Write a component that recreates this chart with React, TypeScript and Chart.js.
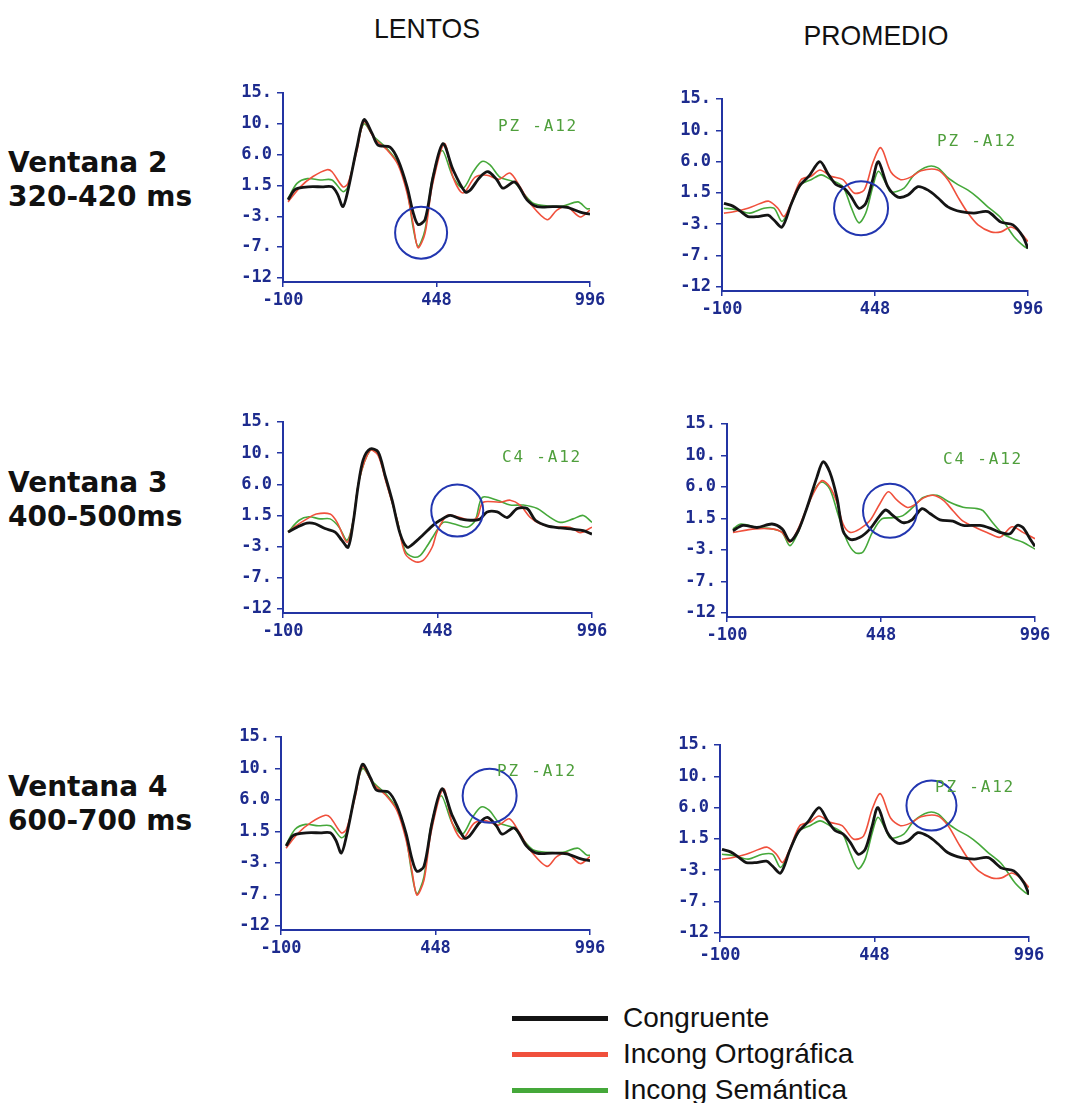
import React, { useEffect, useRef } from "react";
import { Chart, registerables } from "chart.js";

Chart.register(...registerables);

// ---------- tick labels / categories ----------
const xTickValues = [-100, 448, 996];
const xTickLabels = ["-100", "448", "996"];
const yTickValues = [15, 10.5, 6, 1.5, -3, -7.5, -12];
const yTickLabels = ["15.", "10.", "6.0", "1.5", "-3.", "-7.", "-12"];
const seriesNames = ["Congruente", "Incong Ortográfica", "Incong Semántica"];
const columnTitles = ["LENTOS", "PROMEDIO"];
const rowTitles = ["Ventana 2", "Ventana 3", "Ventana 4"];
const rowWindows = ["320-420 ms", "400-500ms", "600-700 ms"];
const channelLabels = ["PZ -A12", "C4 -A12", "PZ -A12"];

// ---------- series values [ms, µV] ----------
const lentosPzCongruente: [number, number][] = [
  [-82, -0.6], [-60, 0.8], [-45, 1.1], [-10, 1.3], [40, 1.3], [75, 1.3], [95, 0.2], [114, -1.6], [132, 0.8],
  [164, 7.1], [189, 11.1], [218, 9.1], [239, 7.4], [282, 7.1], [311, 5.2], [343, 1.3], [365, -2.5], [382, -4.2],
  [407, -3.5], [436, 2.8], [471, 7.6], [507, 3.8], [550, 0.55], [568, 0.8], [603, 2.7], [632, 3.5], [664, 2.3],
  [685, 1.1], [728, 2.0], [771, -0.6], [807, -1.6], [864, -1.6], [914, -1.7], [961, -2.4], [996, -2.7],
];
const lentosPzOrtografica: [number, number][] = [
  [-82, -0.9], [-38, 1.3], [7, 2.8], [57, 3.8], [75, 3.5], [114, 1.3], [132, 1.8], [164, 6.6], [189, 10.8],
  [225, 8.4], [271, 6.7], [311, 4.5], [343, 0.4], [364, -4.0], [382, -7.6], [407, -5.5], [432, 1.3], [476, 7.6],
  [507, 2.7], [543, 0.4], [586, 2.7], [628, 3.0], [671, 2.4], [710, 3.3], [746, 1.3], [782, -1.1], [843, -3.5],
  [878, -2.1], [914, -1.6], [961, -3.1], [996, -2.1],
];
const lentosPzSemantica: [number, number][] = [
  [-82, -0.4], [-50, 1.8], [-13, 2.5], [32, 2.3], [75, 2.3], [114, 0.6], [132, 1.3], [164, 7.1], [189, 10.5],
  [225, 8.6], [271, 6.9], [311, 4.7], [343, 0.8], [364, -4.5], [382, -7.4], [407, -5.0], [432, 2.3], [468, 6.6],
  [507, 2.7], [543, 1.1], [579, 3.5], [610, 5.0], [639, 4.5], [675, 2.7], [725, 2.0], [757, 0.4], [793, -1.1],
  [843, -1.5], [900, -1.5], [953, -0.9], [985, -1.9], [996, -1.9],
];

const promedioPzCongruente: [number, number][] = [
  [-93, 0.0], [-61, -0.4], [-32, -1.2], [-7, -1.9], [29, -1.9], [65, -1.7], [86, -2.4], [115, -3.4], [147, -0.2],
  [176, 2.4], [211, 3.9], [251, 6.0], [279, 4.3], [308, 2.7], [337, 2.2], [362, 1.0], [390, -0.7], [415, 0.0],
  [440, 3.4], [460, 6.0], [494, 2.4], [530, 0.9], [566, 1.2], [602, 2.4], [638, 1.9], [673, 0.8], [709, -0.5],
  [756, -1.2], [802, -1.4], [852, -1.2], [899, -2.7], [942, -3.1], [978, -4.8], [996, -6.5],
];
const promedioPzOrtografica: [number, number][] = [
  [-93, -1.4], [-58, -1.2], [-7, -0.7], [39, 0.0], [68, 0.3], [100, -0.7], [122, -1.9], [147, 0.0], [183, 3.4],
  [219, 3.9], [251, 4.8], [290, 3.9], [333, 3.4], [373, 1.5], [409, 1.9], [440, 5.8], [469, 8.0], [505, 4.5],
  [540, 3.4], [577, 3.8], [613, 4.7], [673, 4.8], [709, 3.4], [745, 0.9], [781, -1.4], [817, -3.1], [863, -4.1],
  [899, -4.1], [935, -3.4], [971, -4.3], [996, -5.5],
];
const promedioPzSemantica: [number, number][] = [
  [-93, -0.7], [-50, -0.9], [0, -1.4], [50, -0.7], [86, -0.7], [115, -2.6], [147, -0.2], [183, 2.7], [219, 3.4],
  [255, 4.1], [290, 3.4], [333, 2.4], [362, -0.5], [390, -2.8], [415, -1.4], [440, 2.4], [460, 4.6], [487, 2.9],
  [505, 1.6], [552, 2.2], [588, 4.1], [638, 5.3], [673, 5.1], [709, 3.7], [745, 2.7], [781, 1.9], [817, 0.8],
  [852, -0.5], [899, -2.1], [946, -4.8], [982, -6.2], [996, -6.5],
];

const lentosC4Congruente: [number, number][] = [
  [-82, -0.9], [-50, -0.2], [-15, 0.4], [14, 0.3], [49, -0.4], [85, -0.9], [109, -2.1], [131, -3.1], [149, 0.5],
  [166, 5.6], [184, 9.5], [209, 11.1], [237, 10.7], [262, 7.3], [287, 3.7], [315, -1.1], [340, -3.1], [362, -2.6],
  [397, -1.3], [433, 0.1], [457, 0.8], [493, 1.5], [528, 1.0], [564, 0.8], [599, 1.0], [624, 2.0], [660, 2.0],
  [695, 1.2], [731, 2.5], [766, 2.5], [795, 0.8], [837, 0.0], [883, -0.3], [929, -0.5], [965, -0.7], [996, -1.2],
];
const lentosC4Ortografica: [number, number][] = [
  [-82, -0.9], [-50, 0.1], [-15, 1.0], [18, 1.7], [67, 1.7], [92, 0.5], [127, -2.4], [149, 0.7], [170, 6.6],
  [209, 10.9], [237, 10.2], [267, 6.1], [305, 0.8], [333, -4.0], [369, -5.2], [397, -5.0], [429, -3.1], [447, -0.8],
  [482, 1.5], [518, 1.3], [564, 0.8], [589, 1.2], [610, 3.4], [670, 3.4], [706, 3.7], [741, 3.0], [777, 1.2],
  [812, 0.3], [859, -0.2], [918, -0.2], [954, -1.0], [996, -0.2],
];
const lentosC4Semantica: [number, number][] = [
  [-82, -0.9], [-43, 0.8], [-8, 1.3], [31, 1.0], [67, 1.0], [99, -0.2], [127, -2.1], [149, 0.7], [170, 6.6],
  [209, 10.9], [237, 10.4], [267, 6.3], [305, 0.8], [333, -3.6], [362, -4.5], [386, -4.3], [410, -3.0], [433, -1.5],
  [468, 0.5], [504, 0.3], [553, -0.2], [582, 0.8], [607, 4.1], [660, 3.7], [706, 3.0], [752, 3.0], [802, 2.5],
  [837, 1.5], [883, 0.5], [929, 1.0], [965, 1.5], [996, 0.5],
];

const promedioC4Congruente: [number, number][] = [
  [-79, -0.25], [-43, 0.5], [7, 0.2], [60, 0.7], [96, 0.0], [124, -1.7], [153, -0.3], [185, 3.1], [220, 7.4],
  [242, 9.6], [266, 8.1], [291, 4.5], [313, -0.3], [338, -1.5], [373, -1.2], [409, 0.0], [444, 1.9], [465, 2.7],
  [491, 1.9], [526, 0.9], [558, 1.3], [594, 2.9], [622, 2.2], [658, 1.3], [704, 1.1], [740, 0.5], [800, 0.5],
  [836, 0.1], [871, -0.5], [907, -0.7], [932, 0.5], [953, 0.2], [978, -1.4], [996, -2.5],
];
const promedioC4Ortografica: [number, number][] = [
  [-79, -0.5], [0, 0.0], [60, 0.0], [96, -0.5], [124, -1.9], [153, 0.0], [185, 3.1], [213, 5.5], [238, 6.9],
  [266, 6.0], [291, 3.8], [313, 0.7], [338, -0.5], [373, 0.0], [409, 1.2], [444, 3.6], [474, 5.3], [505, 4.1],
  [540, 3.1], [562, 3.3], [598, 4.4], [633, 4.8], [669, 4.1], [704, 2.6], [740, 1.1], [790, 0.1], [825, -0.5],
  [871, -1.2], [914, 0.3], [953, -0.5], [996, -1.4],
];
const promedioC4Semantica: [number, number][] = [
  [-79, 0.0], [-50, 0.7], [7, 0.2], [60, 0.0], [96, -0.5], [124, -2.4], [153, -0.5], [185, 3.1], [213, 5.7],
  [238, 6.7], [266, 5.7], [295, 2.1], [327, -1.7], [356, -3.4], [384, -3.3], [416, -0.6], [450, 1.4], [491, 1.6],
  [526, 1.9], [562, 3.1], [598, 4.5], [647, 4.8], [693, 3.8], [740, 3.1], [790, 2.9], [811, 2.6], [847, 0.8],
  [882, -0.7], [918, -1.4], [953, -1.9], [996, -2.9],
];

// highlighted regions: [ms, µV] centres
const circleCentres: [number, number][] = [
  [393, -5.4], [398, -0.7],
  [518, 2.2], [480, 2.6],
  [640, 6.6], [650, 6.3],
];

// ---------- styling / layout ----------
const seriesColors = ["#141414", "#f0503c", "#45a83a"];
const seriesWidths = [2.8, 1.6, 1.6];
const axisColor = "#2334a3";
const tickColor = "#1d2b8e";
const circleColor = "#2236b0";
const labelGreen = "#4f9f3c";

type Panel = {
  series: [number, number][][];
  L: number; R: number; T: number; B: number;
  label: string; labelX: number; labelY: number;
  circle: [number, number]; radius: number;
};

const panels: Panel[] = [
  { series: [lentosPzCongruente, lentosPzOrtografica, lentosPzSemantica], L: 283, R: 590, T: 93, B: 282, label: channelLabels[0], labelX: 498, labelY: 126, circle: circleCentres[0], radius: 26 },
  { series: [promedioPzCongruente, promedioPzOrtografica, promedioPzSemantica], L: 722, R: 1028, T: 99, B: 291, label: channelLabels[0], labelX: 937, labelY: 141, circle: circleCentres[1], radius: 27 },
  { series: [lentosC4Congruente, lentosC4Ortografica, lentosC4Semantica], L: 283, R: 592, T: 422, B: 613, label: channelLabels[1], labelX: 502, labelY: 457, circle: circleCentres[2], radius: 26 },
  { series: [promedioC4Congruente, promedioC4Ortografica, promedioC4Semantica], L: 727, R: 1035, T: 424, B: 617, label: channelLabels[1], labelX: 943, labelY: 459, circle: circleCentres[3], radius: 27 },
  { series: [lentosPzCongruente, lentosPzOrtografica, lentosPzSemantica], L: 281, R: 590, T: 737, B: 930, label: channelLabels[2], labelX: 497, labelY: 771, circle: circleCentres[4], radius: 27 },
  { series: [promedioPzCongruente, promedioPzOrtografica, promedioPzSemantica], L: 720, R: 1029, T: 745, B: 937, label: channelLabels[2], labelX: 935, labelY: 787, circle: circleCentres[5], radius: 25 },
];

const PAD_L = 72, PAD_T = 12, PAD_R = 34, PAD_B = 36;
const Y_MIN = -12.6, Y_MAX = 15;

const tickFont = { family: "'DejaVu Sans Mono', monospace", size: 17, weight: "bold" as const };

const circlePlugin = {
  id: "roiCircle",
  afterDatasetsDraw(chart: any, _args: any, opts: any) {
    if (!opts || !opts.center) return;
    const { ctx, scales } = chart;
    const cx = scales.x.getPixelForValue(opts.center[0]);
    const cy = scales.y.getPixelForValue(opts.center[1]);
    ctx.save();
    ctx.strokeStyle = circleColor;
    ctx.lineWidth = 2;
    ctx.beginPath();
    ctx.arc(cx, cy, opts.radius, 0, Math.PI * 2);
    ctx.stroke();
    ctx.restore();
  },
};

function ErpPanel({ p }: { p: Panel }) {
  const ref = useRef<HTMLCanvasElement>(null);
  const w = PAD_L + (p.R - p.L) + PAD_R;
  const h = PAD_T + (p.B - p.T) + PAD_B;
  useEffect(() => {
    if (!ref.current) return;
    const chart = new Chart(ref.current, {
      type: "line",
      data: {
        datasets: p.series.map((s, i) => ({
          label: seriesNames[i],
          data: s.map(([x, y]) => ({ x, y })),
          borderColor: seriesColors[i],
          borderWidth: seriesWidths[i],
          pointRadius: 0,
          tension: 0.3,
          fill: false,
          order: i === 0 ? 0 : i,
        })),
      },
      options: {
        animation: false,
        responsive: false,
        maintainAspectRatio: false,
        devicePixelRatio: 1,
        layout: { padding: { top: PAD_T, right: PAD_R, left: 0, bottom: 0 } },
        plugins: {
          legend: { display: false },
          tooltip: { enabled: false },
          roiCircle: { center: p.circle, radius: p.radius },
        } as any,
        scales: {
          x: {
            type: "linear",
            min: -100,
            max: 996,
            afterBuildTicks: (s: any) => { s.ticks = xTickValues.map((v) => ({ value: v })); },
            afterFit: (s: any) => { s.height = PAD_B; s.paddingLeft = 0; s.paddingRight = 0; },
            ticks: {
              autoSkip: false,
              maxRotation: 0,
              padding: 3,
              color: tickColor,
              font: tickFont,
              callback: (v: any) => { const i = xTickValues.indexOf(Number(v)); return i >= 0 ? xTickLabels[i] : ""; },
            },
            grid: { drawOnChartArea: false, drawTicks: true, tickLength: 5, color: axisColor, lineWidth: 1.5 },
            border: { display: true, color: axisColor, width: 2 },
          },
          y: {
            type: "linear",
            min: Y_MIN,
            max: Y_MAX,
            afterBuildTicks: (s: any) => { s.ticks = yTickValues.map((v) => ({ value: v })); },
            afterFit: (s: any) => { s.width = PAD_L; s.paddingTop = 0; s.paddingBottom = 0; },
            ticks: {
              autoSkip: false,
              padding: 5,
              color: tickColor,
              font: tickFont,
              callback: (v: any) => { const i = yTickValues.indexOf(Number(v)); return i >= 0 ? yTickLabels[i] : ""; },
            },
            grid: { drawOnChartArea: false, drawTicks: true, tickLength: 6, color: axisColor, lineWidth: 1.5 },
            border: { display: true, color: axisColor, width: 2 },
          },
        },
      },
      plugins: [circlePlugin],
    } as any);
    return () => chart.destroy();
  }, []);
  return (
    <>
      <canvas
        ref={ref}
        width={w}
        height={h}
        style={{ position: "absolute", left: p.L - PAD_L, top: p.T - PAD_T, width: w, height: h }}
      />
      <div
        style={{
          position: "absolute",
          left: p.labelX,
          top: p.labelY - 10,
          height: 20,
          lineHeight: "20px",
          font: "16px 'DejaVu Sans Mono', monospace",
          letterSpacing: "1.8px",
          color: labelGreen,
          whiteSpace: "pre",
        }}
      >
        {p.label}
      </div>
    </>
  );
}

const titleStyle: React.CSSProperties = {
  position: "absolute",
  font: "28px 'Liberation Sans', Arial, sans-serif",
  color: "#111",
  transform: "translateX(-50%) scaleX(0.95)",
  whiteSpace: "nowrap",
  lineHeight: "30px",
};

const rowLabelStyle: React.CSSProperties = {
  position: "absolute",
  left: 8,
  font: "bold 28px 'DejaVu Sans', sans-serif",
  color: "#111",
  lineHeight: "34px",
  whiteSpace: "nowrap",
};

const titleCentres = [[427, 29], [876, 36]];
const rowCentres = [163, 483, 787];
const legendRows = [1018, 1054, 1090];

export default function App() {
  return (
    <div style={{ position: "absolute", left: 0, top: 0, width: 1065, height: 1103, background: "#fff", overflow: "hidden" }}>
      {columnTitles.map((t, i) => (
        <div key={t} style={{ ...titleStyle, left: titleCentres[i][0], top: titleCentres[i][1] - 15 }}>{t}</div>
      ))}
      {rowTitles.map((t, i) => (
        <div key={t} style={{ ...rowLabelStyle, top: rowCentres[i] - 17 }}>
          <div>{t}</div>
          <div>{rowWindows[i]}</div>
        </div>
      ))}
      {panels.map((p, i) => (
        <ErpPanel key={i} p={p} />
      ))}
      {seriesNames.map((n, i) => (
        <React.Fragment key={n}>
          <div style={{ position: "absolute", left: 512, top: legendRows[i] - 2.5, width: 96, height: 5, background: seriesColors[i] }} />
          <div style={{ position: "absolute", left: 623, top: legendRows[i] - 16, height: 32, lineHeight: "32px", font: "28px 'Liberation Sans', Arial, sans-serif", color: "#111", whiteSpace: "nowrap" }}>
            {n}
          </div>
        </React.Fragment>
      ))}
    </div>
  );
}
